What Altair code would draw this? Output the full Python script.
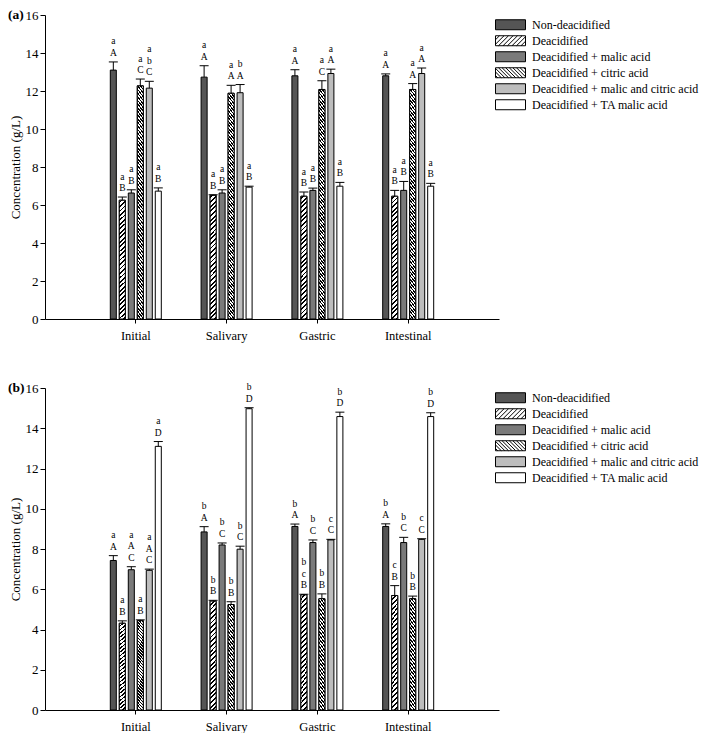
import altair as alt
import pandas as pd

STAGES = ["Initial", "Salivary", "Gastric", "Intestinal"]
SERIES = [
    "Non-deacidified",
    "Deacidified",
    "Deacidified + malic acid",
    "Deacidified + citric acid",
    "Deacidified + malic and citric acid",
    "Deacidified + TA malic acid",
]
SERIES_FILL = ["#555555", "#ffffff", "#7a7a7a", "#ffffff", "#bdbdbd", "#ffffff"]
Y_TICKS = [0, 2, 4, 6, 8, 10, 12, 14, 16]

A_MEAN = [
    [13.10, 12.73, 12.80, 12.80],
    [6.25, 6.51, 6.46, 6.46],
    [6.63, 6.63, 6.77, 6.77],
    [12.27, 11.88, 12.08, 12.08],
    [12.15, 11.91, 12.92, 12.92],
    [6.73, 6.94, 6.99, 6.99],
]
A_ERR = [
    [0.43, 0.60, 0.32, 0.10],
    [0.17, 0.03, 0.22, 0.31],
    [0.17, 0.17, 0.12, 0.47],
    [0.36, 0.42, 0.46, 0.31],
    [0.36, 0.43, 0.23, 0.29],
    [0.17, 0.05, 0.20, 0.15],
]
A_LETTERS = [
    ["a\nA", "a\nA", "a\nA", "a\nA"],
    ["a\nB", "a\nB", "a\nB", "a\nB"],
    ["a\nB", "a\nB", "a\nB", "a\nB"],
    ["a\nC", "a\nA", "a\nC", "a\nA"],
    ["a\nb\nC", "b\nA", "a\nA", "a\nA"],
    ["a\nB", "a\nB", "a\nB", "a\nB"],
]

B_MEAN = [
    [7.43, 8.85, 9.12, 9.12],
    [4.31, 5.41, 5.72, 5.69],
    [6.97, 8.20, 8.32, 8.32],
    [4.44, 5.24, 5.53, 5.53],
    [6.94, 7.99, 8.45, 8.48],
    [13.10, 14.97, 14.58, 14.58],
]
B_ERR = [
    [0.24, 0.26, 0.12, 0.13],
    [0.12, 0.04, 0.03, 0.49],
    [0.15, 0.10, 0.13, 0.26],
    [0.04, 0.14, 0.24, 0.13],
    [0.06, 0.15, 0.03, 0.03],
    [0.24, 0.05, 0.22, 0.19],
]
B_LETTERS = [
    ["a\nA", "b\nA", "b\nA", "b\nA"],
    ["a\nB", "b\nB", "b\nc\nB", "c\nB"],
    ["a\nA\nC", "b\nC", "b\nC", "b\nC"],
    ["a\nB", "b\nB", "b\nB", "b\nB"],
    ["a\nA\nC", "b\nC", "c\nC", "c\nC"],
    ["a\nD", "b\nD", "b\nD", "b\nD"],
]

FONT = "Liberation Serif"
YTITLE = "Concentration (g/L)"
PLOT_W = 454
BAR_W = 6.0
GROUP_W = PLOT_W / 5.0
CLUSTER_W = 51.0
LETTER_LH = 11.5


def rect_path(hatch=None, spacing=0.2):
    """Legend symbol: a 30x10 rectangle, optionally with hatch strokes."""
    hy = 1.0 / 3.0
    p = "M-1,-0.3333H1V0.3333H-1Z"
    if hatch is None:
        return p
    segs = []
    c = -1.0 - 2 * hy
    while c < 1.0 + 2 * hy:
        pts = []
        for t in [i / 200.0 for i in range(201)]:
            yy = -hy + 2 * hy * t
            xx = c - yy if hatch == "/" else c + yy
            if -1.0 <= xx <= 1.0:
                pts.append((xx, yy))
        if len(pts) >= 2:
            (x0, y0), (x1, y1) = pts[0], pts[-1]
            segs.append("M%.3f,%.3fL%.3f,%.3f" % (x0, y0, x1, y1))
        c += spacing
    return p + "".join(segs)


SHAPES = [
    rect_path(),
    rect_path("/", 0.3),
    rect_path(),
    rect_path("\\", 0.24),
    rect_path(),
    rect_path(),
]


def hatch_gradient(mean_vals, px_per_unit, period, black_frac, direction, steep):
    h = sum(mean_vals) / len(mean_vals) * px_per_unit
    a = direction * steep * BAR_W / h
    L = 1.2
    y1 = -0.1
    n = max(1, int(round(L * (1 + a * a) * h / period)))
    stops = []
    for i in range(n):
        o0 = i / n
        o1 = (i + black_frac) / n
        o2 = (i + 1) / n
        stops += [
            alt.GradientStop(offset=o0, color="#000000"),
            alt.GradientStop(offset=o1, color="#000000"),
            alt.GradientStop(offset=o1, color="#ffffff"),
            alt.GradientStop(offset=min(o2, 1.0), color="#ffffff"),
        ]
    return alt.LinearGradient(
        gradient="linear", stops=stops, x1=0, y1=y1, x2=a * L, y2=y1 + L
    )


def make_df(means, errs, letters):
    rows = []
    for i, s in enumerate(SERIES):
        for j, st in enumerate(STAGES):
            lines = letters[i][j].split("\n")
            rows.append(
                {
                    "stage": st,
                    "series": s,
                    "series_h": s,
                    "mean": means[i][j],
                    "upper": round(means[i][j] + errs[i][j], 3),
                    "l1": lines[-1],
                    "l2": lines[-2] if len(lines) >= 2 else "",
                    "l3": lines[-3] if len(lines) >= 3 else "",
                }
            )
    return pd.DataFrame(rows)


def legend_def(label_opacity, symbol_type=None):
    kw = dict(
        title=None,
        orient="none",
        legendX=450,
        legendY=2,
        clipHeight=15.5,
        rowPadding=0,
        symbolSize=900,
        symbolOpacity=1,
        symbolStrokeColor="black",
        symbolStrokeWidth=1,
        symbolOffset=0,
        labelFont=FONT,
        labelFontSize=12,
        labelColor="black",
        labelOpacity=label_opacity,
        labelOffset=6,
        labelLimit=400,
        padding=0,
    )
    if symbol_type is not None:
        kw["symbolType"] = symbol_type
    return alt.Legend(**kw)


def panel(means, errs, letters, label, height):
    df = make_df(means, errs, letters)
    pxu = height / 16.0
    lo = (GROUP_W - CLUSTER_W) / 2.0
    base = alt.Chart(df).encode(
        x=alt.X(
            "stage:N",
            sort=STAGES,
            scale=alt.Scale(domain=STAGES, paddingInner=0, paddingOuter=0.5),
            axis=alt.Axis(
                title=None,
                labelAngle=0,
                labelFont=FONT,
                labelFontSize=12.5,
                labelColor="black",
                tickSize=4,
                labelPadding=6,
                domainColor="black",
                tickColor="black",
            ),
        ),
        xOffset=alt.XOffset(
            "series:N",
            sort=SERIES,
            scale=alt.Scale(
                domain=SERIES, range=[lo, lo + CLUSTER_W], paddingInner=0.33, paddingOuter=0
            ),
        ),
    )
    yaxis = alt.Axis(
        values=Y_TICKS,
        labelOverlap=False,
        title=YTITLE,
        titleFont=FONT,
        titleFontSize=13,
        titleFontWeight="normal",
        titleColor="black",
        titlePadding=3,
        labelFont=FONT,
        labelFontSize=13,
        labelColor="black",
        tickSize=5,
        labelPadding=2,
        domainColor="black",
        tickColor="black",
        grid=False,
    )
    yscale = alt.Scale(domain=[0, 16], nice=False)

    def Y(field):
        return alt.Y(field, scale=yscale, axis=yaxis, title=YTITLE)

    bars = base.mark_bar(stroke="black", strokeWidth=1).encode(
        y=Y("mean:Q"),
        fill=alt.Fill(
            "series:N",
            scale=alt.Scale(domain=SERIES, range=SERIES_FILL),
            legend=legend_def(1, rect_path()),
        ),
    )
    hatch1 = (
        base.transform_filter(alt.datum.series == SERIES[1])
        .mark_bar(
            fill=hatch_gradient(means[1], pxu, 4.6, 0.4, 1, 1.0),
            stroke="black",
            strokeWidth=1,
        )
        .encode(y=Y("mean:Q"))
    )
    hatch2 = (
        base.transform_filter(alt.datum.series == SERIES[3])
        .mark_bar(
            fill=hatch_gradient(means[3], pxu, 3.6, 0.5, -1, 1.3),
            stroke="black",
            strokeWidth=1,
        )
        .encode(y=Y("mean:Q"))
    )
    err = base.mark_rule(color="black", strokeWidth=1).encode(
        y=Y("mean:Q"), y2="upper:Q"
    )
    caps = base.mark_tick(color="black", size=9, thickness=1, opacity=1).encode(
        y=Y("upper:Q")
    )
    texts = []
    for k, field in enumerate(["l1", "l2", "l3"]):
        texts.append(
            base.mark_text(
                baseline="bottom",
                dy=-4 - k * LETTER_LH,
                fontSize=9.5,
                font=FONT,
                color="black",
            ).encode(y=Y("upper:Q"), text=f"{field}:N")
        )

    # outline + hatch strokes of the legend symbols (drawn over the fill legend)
    outline_layer = (
        base.transform_filter(alt.datum.mean < 0)
        .mark_point(filled=False, color="black", strokeWidth=1, opacity=1)
        .encode(
            y=Y("mean:Q"),
            shape=alt.Shape(
                "series_h:N",
                scale=alt.Scale(domain=SERIES, range=SHAPES),
                legend=legend_def(0),
            ),
        )
    )
    tag = (
        alt.Chart(pd.DataFrame({"tag": [label], "top": [16]}))
        .mark_text(
            align="left",
            baseline="middle",
            dx=-37,
            font=FONT,
            fontSize=13.5,
            fontWeight="bold",
            color="black",
        )
        .encode(x=alt.value(0), y=Y("top:Q"), text="tag:N")
    )
    return alt.layer(
        bars, hatch1, hatch2, err, caps, *texts, outline_layer, tag
    ).properties(width=PLOT_W, height=height)


pa = panel(A_MEAN, A_ERR, A_LETTERS, "(a)", 304)
pb = panel(B_MEAN, B_ERR, B_LETTERS, "(b)", 322)

chart = (
    alt.vconcat(pa, pb, spacing=28)
    .resolve_scale(color="independent", shape="independent", fill="independent")
    .properties(padding=0)
    .configure_view(stroke=None)
)

chart.save("out.html", embed_options={"renderer": "svg", "actions": False})
